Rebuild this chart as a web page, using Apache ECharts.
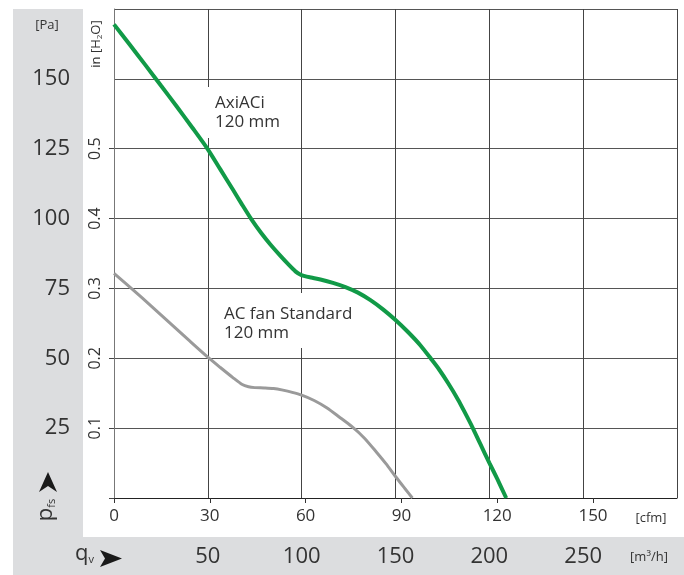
<!DOCTYPE html>
<html>
<head>
<meta charset="utf-8">
<script src="https://cdn.jsdelivr.net/npm/echarts@6/dist/echarts.min.js"></script>
<style>
html,body{margin:0;padding:0;background:#fff;}
#chart{width:684px;height:575px;}
</style>
</head>
<body>
<div id="chart"></div>
<script>
// ---- data (flow in cfm, static pressure in Pa) ----
const cfmTicks = [0, 30, 60, 90, 120, 150];
const m3hTicks = [50, 100, 150, 200, 250];
const paTicks = [25, 50, 75, 100, 125, 150];
const inchLabels = ['0.1', '0.2', '0.3', '0.4', '0.5'];

const axiaciCurve = [
  [0, 169.5], [5, 162.3], [10, 155], [15, 147.6], [20, 140.2], [25, 132.6],
  [30, 124.8], [34, 117.6], [38, 110.4], [41, 104.9], [44, 99.6], [47, 94.9],
  [50, 90.7], [53, 86.9], [56, 83.3], [58, 81.1], [59.5, 80.0], [61, 79.4],
  [63, 78.9], [66, 78.2], [70, 77.0], [74, 75.5], [78, 73.5], [82, 70.8],
  [86, 67.5], [90, 63.7], [94, 59.4], [98, 54.6], [101.5, 49.6], [104, 45.9],
  [107, 40.8], [110, 35.2], [112, 31.0], [114.6, 25.3], [117, 19.6],
  [120, 12.6], [122.5, 6.9], [125.4, 0]
];
const acStandardCurve = [
  [0, 80.4], [6, 74.6], [12, 68.6], [18, 62.5], [24, 56.4], [30, 50.4],
  [34, 46.7], [38, 43.1], [41, 40.6], [43, 39.8], [45, 39.5], [48, 39.4],
  [51, 39.2], [54, 38.6], [57, 37.8], [60, 36.8], [64, 34.9], [68, 32.3],
  [72, 29.0], [76, 25.6], [80, 21.5], [84, 16.3], [87, 12.2], [90, 7.7],
  [93, 3.4], [95.4, 0]
];

const FONT = '"Open Sans", "Noto Sans", sans-serif';
const TXT = '#333';
const PANEL = '#dcdddf';

const chart = echarts.init(document.getElementById('chart'), null, {renderer: 'canvas'});

const option = {
  animation: false,
  backgroundColor: '#fff',
  textStyle: {fontFamily: FONT, color: TXT},
  grid: {left: 114, right: 7, top: 9, bottom: 77, outerBoundsMode: 'none'},
  xAxis: [
    {
      type: 'value', min: 0, max: 180, interval: 30, position: 'bottom',
      axisLine: {show: true, onZero: false, lineStyle: {color: '#222', width: 1}},
      axisTick: {show: false}, axisLabel: {show: false},
      splitLine: {show: true, lineStyle: {color: '#444', width: 1}}
    },
    {
      type: 'value', min: 0, max: 176.3, interval: 30, position: 'bottom',
      axisLine: {show: false, onZero: false},
      axisTick: {show: true, length: 5, customValues: cfmTicks, lineStyle: {color: '#333'}},
      axisLabel: {customValues: cfmTicks, fontSize: 17, color: TXT, margin: 10, fontFamily: FONT},
      splitLine: {show: false}
    },
    {
      type: 'value', min: 0, max: 300, position: 'bottom',
      axisLine: {show: false, onZero: false}, axisTick: {show: false},
      axisLabel: {customValues: m3hTicks, fontSize: 22, color: TXT, margin: 48, fontFamily: FONT},
      splitLine: {show: false}
    }
  ],
  yAxis: [
    {
      type: 'value', min: 0, max: 175, interval: 25, position: 'left',
      axisLine: {show: true, onZero: false, lineStyle: {color: '#777', width: 1}},
      axisTick: {show: false},
      axisLabel: {customValues: paTicks, fontSize: 22, color: TXT, margin: 44, fontFamily: FONT},
      splitLine: {show: true, lineStyle: {color: '#555', width: 1}}
    },
    {
      type: 'value', min: 0, max: 175, position: 'left',
      axisLine: {show: false, onZero: false},
      axisTick: {show: true, length: 5, customValues: [0].concat(paTicks.slice(0, 5)), lineStyle: {color: '#444'}},
      axisLabel: {
        customValues: paTicks.slice(0, 5), rotate: 90, fontSize: 16, color: TXT, margin: 11, fontFamily: FONT,
        formatter: function (v) { return inchLabels[paTicks.indexOf(v)]; }
      },
      splitLine: {show: false}
    }
  ],
  series: [
    {
      name: 'AxiACi 120 mm', type: 'line', xAxisIndex: 0, yAxisIndex: 0,
      data: axiaciCurve, smooth: 0.25, showSymbol: false, z: 5,
      lineStyle: {color: '#119a47', width: 4}
    },
    {
      name: 'AC fan Standard 120 mm', type: 'line', xAxisIndex: 0, yAxisIndex: 0,
      data: acStandardCurve, smooth: 0.25, showSymbol: false, z: 5,
      lineStyle: {color: '#9a9a9a', width: 3}
    }
  ],
  graphic: [
    // grey side panel and bottom band
    {type: 'rect', z: -10, silent: true, shape: {x: 13, y: 9, width: 70, height: 566}, style: {fill: PANEL}},
    {type: 'rect', z: -10, silent: true, shape: {x: 13, y: 537, width: 671, height: 38}, style: {fill: PANEL}},
    // white boxes behind annotations
    {type: 'rect', z: 3, silent: true, shape: {x: 204, y: 87, width: 86, height: 51}, style: {fill: '#fff'}},
    {type: 'rect', z: 3, silent: true, shape: {x: 218, y: 293, width: 142, height: 55}, style: {fill: '#fff'}},
    {type: 'text', z: 4, x: 215, y: 94, style: {text: 'AxiACi\n120 mm', font: '17px ' + FONT, fill: TXT, lineHeight: 19, textVerticalAlign: 'top'}},
    {type: 'text', z: 4, x: 224, y: 305, style: {text: 'AC fan Standard\n120 mm', font: '17px ' + FONT, fill: TXT, lineHeight: 19, textVerticalAlign: 'top'}},
    // unit labels
    {type: 'text', z: 4, x: 47, y: 25, style: {text: '[Pa]', font: '13px ' + FONT, fill: TXT, textAlign: 'center', textVerticalAlign: 'middle'}},
    {type: 'text', z: 4, x: 651, y: 518, style: {text: '[cfm]', font: '13px ' + FONT, fill: TXT, textAlign: 'center', textVerticalAlign: 'middle'}},
    {type: 'text', z: 4, x: 649, y: 557, style: {text: '[m³/h]', font: '13px ' + FONT, fill: TXT, textAlign: 'center', textVerticalAlign: 'middle'}},
    {type: 'text', z: 4, x: 96, y: 44, rotation: Math.PI / 2, style: {
      text: 'in [H{s|2}O]', font: '13px ' + FONT, fill: TXT, textAlign: 'center', textVerticalAlign: 'middle',
      rich: {s: {fontSize: 8, fontFamily: FONT, fill: TXT, padding: [7, 0, 0, 0]}}
    }},
    // axis symbols
    {type: 'text', z: 4, x: 46, y: 510, rotation: Math.PI / 2, style: {
      text: 'p{s|fs}', font: '22px ' + FONT, fill: TXT, textAlign: 'center', textVerticalAlign: 'middle',
      rich: {s: {fontSize: 11, fontFamily: FONT, fill: TXT, padding: [12, 0, 0, 0]}}
    }},
    {type: 'polygon', z: 4, shape: {points: [[48, 472], [57, 492], [48, 486], [39, 492]]}, style: {fill: '#1a1a1a'}},
    {type: 'text', z: 4, x: 75, y: 554, style: {
      text: 'q{s|v}', font: '22px ' + FONT, fill: TXT, textAlign: 'left', textVerticalAlign: 'middle',
      rich: {s: {fontSize: 11, fontFamily: FONT, fill: TXT, padding: [12, 0, 0, 0]}}
    }},
    {type: 'polygon', z: 4, shape: {points: [[100, 550], [122, 558.5], [100, 567], [105, 558.5]]}, style: {fill: '#1a1a1a'}}
  ]
};
chart.setOption(option);
</script>
</body>
</html>
